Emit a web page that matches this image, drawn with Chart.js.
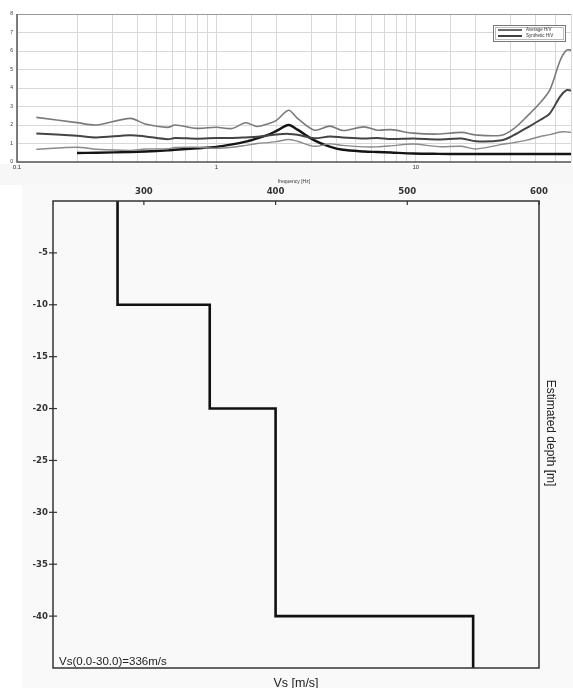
<!DOCTYPE html>
<html><head><meta charset="utf-8">
<script src="https://cdn.jsdelivr.net/npm/chart.js@4/dist/chart.umd.min.js"></script>
<style>
html,body{margin:0;padding:0;background:#fff;width:573px;height:688px;overflow:hidden}
#bg1{position:absolute;left:0;top:164px;width:573px;height:21px;background:#f7f7f7}
#c1{position:absolute;left:0;top:0}
#bg2{position:absolute;left:22px;top:185px;width:551px;height:503px;background:#f9f9f9}
#c2{position:absolute;left:0;top:185px}
</style></head><body>
<div id="bg1"></div>
<canvas id="c1" width="573" height="185"></canvas>
<div id="bg2"></div>
<canvas id="c2" width="573" height="503"></canvas>
<script>
// ---------- HVSR data ----------
const freq = [0.125,0.2,0.25,0.37,0.44,0.57,0.62,0.8,1.0,1.2,1.4,1.6,1.8,2.0,2.3,2.55,3.1,3.7,4.3,5.5,6.4,7.5,9.7,13,17,20,27,31,36,42,47,53,57,60];
const hvUpper = [2.41,2.13,2.0,2.36,2.05,1.87,2.0,1.82,1.88,1.81,2.12,1.92,2.05,2.25,2.8,2.36,1.72,1.94,1.7,1.9,1.72,1.75,1.56,1.51,1.6,1.46,1.45,1.8,2.45,3.2,3.9,5.5,6.05,6.05];
const hvAverage = [1.54,1.42,1.33,1.45,1.38,1.23,1.3,1.26,1.3,1.3,1.33,1.36,1.43,1.49,1.52,1.47,1.28,1.38,1.33,1.27,1.3,1.24,1.27,1.22,1.27,1.12,1.18,1.45,1.85,2.27,2.63,3.55,3.88,3.86];
const hvLower = [0.69,0.8,0.69,0.63,0.7,0.72,0.78,0.8,0.74,0.8,0.9,1.0,1.05,1.1,1.22,1.12,0.85,0.98,0.9,0.82,0.82,0.87,0.97,0.83,0.85,0.7,0.95,1.05,1.18,1.38,1.48,1.62,1.63,1.6];
const hvSynthetic = [null,0.49,0.5,0.54,0.57,0.63,0.66,0.74,0.82,0.95,1.1,1.28,1.45,1.68,2.0,1.75,1.17,0.83,0.66,0.57,0.54,0.51,0.46,0.44,0.43,0.43,0.43,0.43,0.43,0.43,0.43,0.43,0.43,0.43];
const freqLabels = [0.1,1,10];
const legendNames = ['Average H/V','Synthetic H/V'];

// ---------- Vs profile data ----------
const vsValues = [280,350,400,550];
const layerTop = [0,-10,-20,-40];
const layerBottom = [-10,-20,-40,-45];
const vsTicks = [300,400,500,600];
const depthTicks = [-5,-10,-15,-20,-25,-30,-35,-40];
const vs30Text = 'Vs(0.0-30.0)=336m/s';

const pts = a => freq.map((f,i)=>({x:f,y:a[i]}));
const tickFont = '"DejaVu Sans Condensed", "Liberation Sans Narrow", "Liberation Sans", Arial';

const topPlugin = {
  id:'topDeco',
  afterDraw(ch){
    const c=ch.ctx, a=ch.chartArea;
    c.save();
    c.strokeStyle='#999'; c.lineWidth=1.2;
    c.beginPath(); c.moveTo(a.left,a.top+0.5); c.lineTo(a.right,a.top+0.5); c.stroke();
    c.strokeStyle='#555'; c.lineWidth=1.5;
    c.beginPath(); c.moveTo(a.left,a.top); c.lineTo(a.left,a.bottom); c.lineTo(a.right,a.bottom); c.stroke();
    // legend
    const lx=493, ly=25, lw=72, lh=16;
    c.fillStyle='#fff'; c.fillRect(lx,ly,lw,lh);
    c.strokeStyle='#777'; c.lineWidth=1; c.strokeRect(lx+0.5,ly+0.5,lw,lh);
    c.strokeStyle='#bbb'; c.strokeRect(lx+2.5,ly+2.5,lw-4,lh-4);
    const cols=['#444','#111'];
    legendNames.forEach((n,i)=>{
      const yy = ly+5+i*6;
      c.strokeStyle=cols[i]; c.lineWidth=1.6;
      c.beginPath(); c.moveTo(lx+5,yy); c.lineTo(lx+29,yy); c.stroke();
      c.fillStyle='#333'; c.font='4.5px "Liberation Sans", Arial'; c.textBaseline='middle'; c.textAlign='left';
      c.fillText(n, lx+33, yy);
    });
    c.restore();
  }
};

new Chart(document.getElementById('c1'),{
  type:'line',
  data:{datasets:[
    {label:'Upper',data:pts(hvUpper),borderColor:'#7a7a7a',borderWidth:1.6,pointRadius:0,tension:0.3},
    {label:'Lower',data:pts(hvLower),borderColor:'#8a8a8a',borderWidth:1.4,pointRadius:0,tension:0.3},
    {label:legendNames[0],data:pts(hvAverage),borderColor:'#444',borderWidth:2,pointRadius:0,tension:0.3},
    {label:legendNames[1],data:pts(hvSynthetic),borderColor:'#151515',borderWidth:2.4,pointRadius:0,tension:0.3,spanGaps:false}
  ]},
  options:{
    responsive:false, animation:false, devicePixelRatio:1,
    layout:{padding:{top:14,left:0,right:0,bottom:0}},
    plugins:{legend:{display:false},tooltip:{enabled:false}},
    scales:{
      x:{type:'logarithmic',min:0.1,max:60,
        afterFit(s){s.height=23;},
        border:{display:false},
        grid:{color:'#d8d8d8',lineWidth:1,drawTicks:false,borderDash:[1,1]},
        ticks:{autoSkip:false,maxRotation:0,padding:2,color:'#333',font:{size:6,family:'"Liberation Sans", Arial'},
          callback(v){return freqLabels.some(f=>Math.abs(f-v)<1e-9)?String(v):'';}},
        title:{display:true,text:'frequency [Hz]',color:'#333',font:{size:5,family:'"Liberation Sans", Arial'},padding:{top:1,bottom:0}}
      },
      y:{min:0,max:8,
        afterFit(s){s.width=17;},
        border:{display:false},
        grid:{color:'#d8d8d8',lineWidth:1,drawTicks:false,borderDash:[1,1]},
        ticks:{stepSize:1,padding:4,color:'#333',font:{size:5,family:'"Liberation Sans", Arial'}}
      }
    }
  },
  plugins:[topPlugin]
});

// ---------- Vs profile ----------
const stepPts = [];
vsValues.forEach((v,i)=>{ stepPts.push({x:v,y:layerTop[i]}); stepPts.push({x:v,y:layerBottom[i]}); });

const botPlugin = {
  id:'botDeco',
  afterDraw(ch){
    const c=ch.ctx, a=ch.chartArea, sx=ch.scales.x, sy=ch.scales.y;
    c.save();
    c.strokeStyle='#333'; c.lineWidth=1.5;
    c.strokeRect(a.left,a.top,a.right-a.left,a.bottom-a.top);
    c.lineWidth=1.2;
    vsTicks.forEach(v=>{const px=sx.getPixelForValue(v); c.beginPath(); c.moveTo(px,a.top); c.lineTo(px,a.top+4); c.stroke();});
    depthTicks.forEach(v=>{const py=sy.getPixelForValue(v); c.beginPath(); c.moveTo(a.left-4,py); c.lineTo(a.left+4,py); c.stroke();});
    c.fillStyle='#222'; c.font='11.5px "Liberation Sans", Arial'; c.textAlign='left'; c.textBaseline='alphabetic';
    c.fillText(vs30Text, a.left+6, a.bottom-3);
    c.textAlign='center'; c.textBaseline='middle'; c.font='12.5px "Liberation Sans", Arial';
    c.fillText('Vs [m/s]', 296, 499);
    c.font='12px "Liberation Sans", Arial';
    c.translate(550, 248); c.rotate(Math.PI/2);
    c.fillText('Estimated depth [m]', 0, 0);
    c.restore();
  }
};

new Chart(document.getElementById('c2'),{
  type:'scatter',
  data:{datasets:[{data:stepPts,showLine:true,borderColor:'#111',borderWidth:2.6,pointRadius:0,tension:0}]},
  options:{
    responsive:false, animation:false, devicePixelRatio:1,
    layout:{padding:{top:0,left:0,right:34,bottom:20}},
    plugins:{legend:{display:false},tooltip:{enabled:false}},
    scales:{
      x:{type:'linear',position:'top',min:231,max:600,
        afterFit(s){s.height=16;},
        afterBuildTicks(s){s.ticks=vsTicks.map(v=>({value:v}));},
        border:{display:false},
        grid:{display:false,drawTicks:false},
        ticks:{padding:4,color:'#333',font:{size:9.5,weight:'bold',family:tickFont}}
      },
      y:{type:'linear',min:-45,max:0,
        afterFit(s){s.width=53;},
        afterBuildTicks(s){s.ticks=depthTicks.map(v=>({value:v}));},
        border:{display:false},
        grid:{display:false,drawTicks:false},
        ticks:{padding:5,color:'#333',font:{size:9.5,weight:'bold',family:tickFont}}
      }
    }
  },
  plugins:[botPlugin]
});
</script>
</body></html>
